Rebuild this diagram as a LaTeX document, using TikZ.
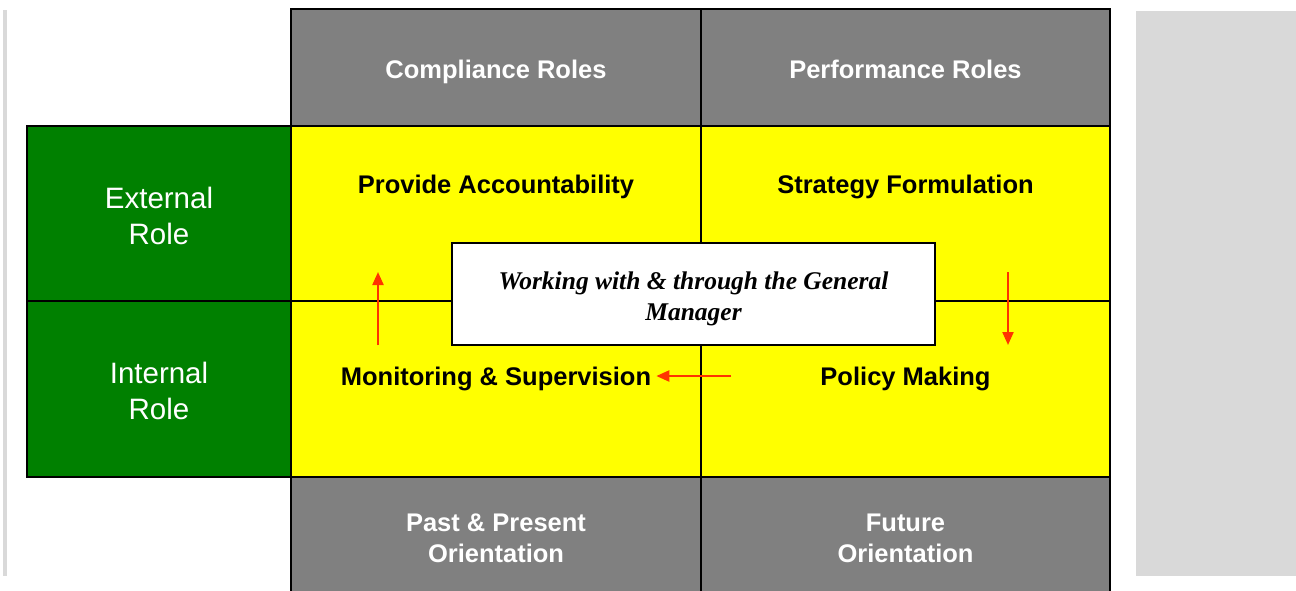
\documentclass[tikz,border=0pt]{standalone}
\usepackage{fontspec}
\setmainfont{Liberation Sans}
\newfontfamily\gmfont{Liberation Serif}
\usetikzlibrary{arrows.meta}

\definecolor{headgray}{HTML}{808080}
\definecolor{rolegreen}{HTML}{008000}
\definecolor{cellyellow}{HTML}{FFFF00}
\definecolor{sidegray}{HTML}{D9D9D9}
\definecolor{arrowred}{HTML}{FF3300}

\tikzset{
  cell/.style 2 args={draw=black, line width=1.3pt, minimum width=#1, minimum height=#2, inner sep=0pt},
  head/.style={cell={#1}{117pt}, fill=headgray},
  foot/.style={cell={#1}{122pt}, fill=headgray, text=white, align=center,
    font=\fontsize{25.5}{31}\selectfont\bfseries},
  role/.style={cell={264pt}{#1}, fill=rolegreen},
  quad/.style={cell={#1}{175pt}, fill=cellyellow},
  boldlabel/.style={font=\fontsize{25.5}{31}\selectfont\bfseries, inner sep=1pt,
    text height=18.3pt, text depth=0pt},
  rolelabel/.style={text=white, align=center, font=\fontsize{29.5}{36}\selectfont},
  flow/.style={draw=arrowred, line width=2.2pt, -{Triangle[length=13pt,width=11pt]}},
}

\begin{document}
\begin{tikzpicture}[x=1pt, y=-1pt]
    \useasboundingbox (0,0) rectangle (1296,590);
    \clip (0,0) rectangle (1296,590);

    % Side bars
    \fill[sidegray] (3,10) rectangle (7,576);
    \fill[sidegray] (1136,11) rectangle (1296,576);

    % Column headings
    \node[head=410pt] (comp) at (496,67.5) {};
    \node[head=409pt] (perf) at (905.5,67.5) {};
    \node[boldlabel, text=white] (compL) at (496,69) {Compliance Roles};
    \node[boldlabel, text=white] (perfL) at (905.5,69) {Performance Roles};

    % Row headings
    \node[role=175pt] (ext) at (159,213.5) {};
    \node[role=176pt] (int) at (159,389) {};
    \node[rolelabel] (extL) at (159,215.5) {External\\Role};
    \node[rolelabel] (intL) at (159,391) {Internal\\Role};

    % Yellow quadrants
    \node[quad=410pt] (acc) at (496,213.5) {};
    \node[quad=409pt] (strat) at (905.5,213.5) {};
    \node[quad=410pt, minimum height=176pt] (mon) at (496,389) {};
    \node[quad=409pt, minimum height=176pt] (pol) at (905.5,389) {};

    \node[boldlabel] (accL) at (496,184) {Provide Accountability};
    \node[boldlabel] (stratL) at (905.5,184) {Strategy Formulation};
    \node[boldlabel] (monL) at (496,376) {Monitoring \& Supervision};
    \node[boldlabel] (polL) at (905.5,376) {Policy Making};

    % Column footers
    \node[foot=410pt] (past) at (496,538) {Past \& Present\\Orientation};
    \node[foot=409pt] (fut) at (905.5,538) {Future\\Orientation};

    % Central box
    \node[cell={483pt}{102pt}, fill=white] (gm) at (693.5,294) {};
    \node[align=center, font=\gmfont\fontsize{25.5}{31}\selectfont\bfseries\itshape] (gmL)
      at (693.5,299) {Working with \& through the General\\Manager};

    % Arrows
    \coordinate (upS) at (378,345);
    \coordinate (upE) at (378,272);
    \coordinate (dnS) at (1008,272);
    \coordinate (dnE) at (1008,345);
    \coordinate (lfS) at (731,376);
    \draw[flow] (upS) -- (upE);
    \draw[flow] (dnS) -- (dnE);
    \draw[flow, shorten >=4pt] (lfS) -- (monL.east);

\end{tikzpicture}
\end{document}
